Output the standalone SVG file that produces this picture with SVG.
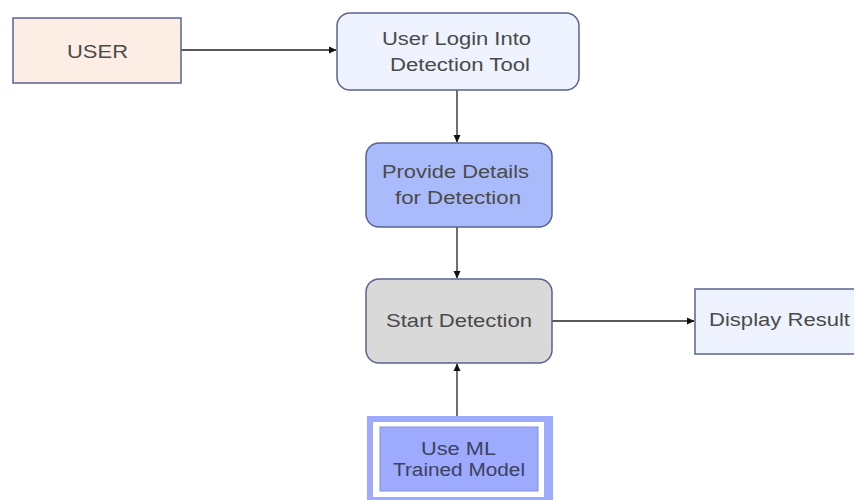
<svg xmlns="http://www.w3.org/2000/svg" width="854" height="500" viewBox="0 0 854 500">
<style>
.box{stroke:#5b6390;stroke-width:1.5}
.t{font-family:"Liberation Sans",Arial,sans-serif;font-size:18px;fill:#4a4a4a;text-anchor:middle}
.c{stroke:#222;stroke-width:1.3;fill:none}
</style>
<defs>
<marker id="ah" markerWidth="8" markerHeight="8" refX="7" refY="4" orient="auto" markerUnits="userSpaceOnUse">
<path d="M0,0.5 L7.5,4 L0,7.5 Z" fill="#111"/>
</marker>
</defs>
<rect width="854" height="500" fill="#fff"/>
<g id="connectors">
<line class="c" x1="181" y1="50" x2="336" y2="50" marker-end="url(#ah)"/>
<line class="c" x1="457" y1="90" x2="457" y2="142" marker-end="url(#ah)"/>
<line class="c" x1="457" y1="227" x2="457" y2="278" marker-end="url(#ah)"/>
<line class="c" x1="552" y1="321" x2="694" y2="321" marker-end="url(#ah)"/>
<line class="c" x1="457" y1="416" x2="457" y2="364" marker-end="url(#ah)"/>
</g>
<g id="user">
<rect class="box" x="13" y="18" width="168" height="65" fill="#fdeee5"/>
<text class="t" x="97.5" y="58" textLength="61" lengthAdjust="spacingAndGlyphs">USER</text>
</g>
<g id="login">
<rect class="box" x="337" y="13" width="242" height="77" rx="13" fill="#eef3ff"/>
<text class="t" x="456.5" y="45" textLength="149" lengthAdjust="spacingAndGlyphs">User Login Into</text>
<text class="t" x="460" y="71" textLength="140" lengthAdjust="spacingAndGlyphs">Detection Tool</text>
</g>
<g id="provide">
<rect class="box" x="366" y="143" width="186" height="84" rx="13" fill="#aabbfc"/>
<text class="t" x="455.5" y="178" textLength="147" lengthAdjust="spacingAndGlyphs">Provide Details</text>
<text class="t" x="458" y="204" textLength="126" lengthAdjust="spacingAndGlyphs">for Detection</text>
</g>
<g id="start">
<rect class="box" x="366" y="279" width="186" height="84" rx="13" fill="#d9d9d9"/>
<text class="t" x="459" y="327" textLength="146" lengthAdjust="spacingAndGlyphs">Start Detection</text>
</g>
<g id="display">
<rect class="box" x="695" y="289" width="170" height="65" fill="#eef3ff"/>
<text class="t" x="779.5" y="326" textLength="141" lengthAdjust="spacingAndGlyphs">Display Result</text>
</g>
<g id="useml">
<rect x="367" y="416" width="186" height="95" fill="#9eaafe"/>
<rect x="373" y="422" width="171" height="75" fill="#fff"/>
<rect x="380" y="427" width="158" height="64" fill="#9eaafe" stroke="#8590e6" stroke-width="1"/>
<text class="t" x="458.5" y="455" textLength="75" lengthAdjust="spacingAndGlyphs" style="fill:#3c4160">Use ML</text>
<text class="t" x="459" y="476" textLength="132" lengthAdjust="spacingAndGlyphs" style="fill:#3c4160">Trained Model</text>
</g>
</svg>
